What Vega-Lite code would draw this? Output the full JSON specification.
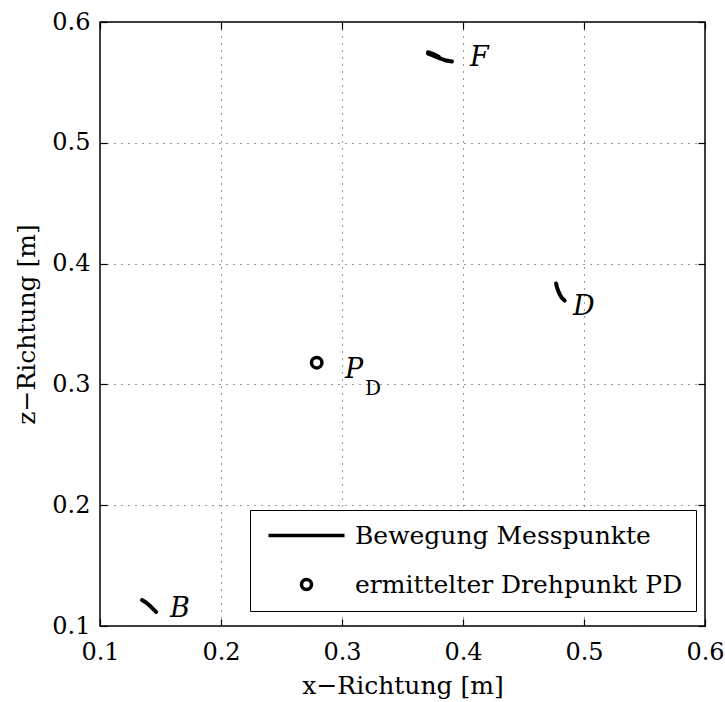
{
  "$schema": "https://vega.github.io/schema/vega-lite/v6.json",
  "width": 605,
  "height": 604,
  "autosize": "none",
  "padding": {"left": 100, "top": 22, "right": 20, "bottom": 76},
  "background": "white",
  "config": {
    "font": "DejaVu Serif",
    "view": {"stroke": "black", "strokeWidth": 1.5},
    "axis": {
      "labelFont": "DejaVu Serif", "labelFontSize": 24, "labelColor": "black",
      "titleFont": "DejaVu Serif", "titleFontSize": 25, "titleFontWeight": "normal", "titleColor": "black",
      "tickColor": "black", "tickWidth": 1.2, "domain": false,
      "gridColor": "#333", "gridDash": [1, 6], "gridWidth": 1, "gridOpacity": 1
    }
  },
  "datasets": {
    "traces": [
      {"trace": "F", "order": 1, "x": 0.3711, "z": 0.5738, "series": "Bewegung Messpunkte"},
      {"trace": "F", "order": 2, "x": 0.3740, "z": 0.5728, "series": "Bewegung Messpunkte"},
      {"trace": "F", "order": 3, "x": 0.3775, "z": 0.5713, "series": "Bewegung Messpunkte"},
      {"trace": "F", "order": 4, "x": 0.3810, "z": 0.5698, "series": "Bewegung Messpunkte"},
      {"trace": "F", "order": 5, "x": 0.3850, "z": 0.5684, "series": "Bewegung Messpunkte"},
      {"trace": "F", "order": 6, "x": 0.3909, "z": 0.5673, "series": "Bewegung Messpunkte"},
      {"trace": "F2", "order": 1, "x": 0.3711, "z": 0.5750, "series": "Bewegung Messpunkte"},
      {"trace": "F2", "order": 2, "x": 0.3760, "z": 0.5732, "series": "Bewegung Messpunkte"},
      {"trace": "F2", "order": 3, "x": 0.3800, "z": 0.5712, "series": "Bewegung Messpunkte"},
      {"trace": "D", "order": 1, "x": 0.4769, "z": 0.3836, "series": "Bewegung Messpunkte"},
      {"trace": "D", "order": 2, "x": 0.4775, "z": 0.3810, "series": "Bewegung Messpunkte"},
      {"trace": "D", "order": 3, "x": 0.4785, "z": 0.3780, "series": "Bewegung Messpunkte"},
      {"trace": "D", "order": 4, "x": 0.4795, "z": 0.3755, "series": "Bewegung Messpunkte"},
      {"trace": "D", "order": 5, "x": 0.4815, "z": 0.3718, "series": "Bewegung Messpunkte"},
      {"trace": "D", "order": 6, "x": 0.4840, "z": 0.3693, "series": "Bewegung Messpunkte"},
      {"trace": "B", "order": 1, "x": 0.1347, "z": 0.1215, "series": "Bewegung Messpunkte"},
      {"trace": "B", "order": 2, "x": 0.1380, "z": 0.1195, "series": "Bewegung Messpunkte"},
      {"trace": "B", "order": 3, "x": 0.1410, "z": 0.1170, "series": "Bewegung Messpunkte"},
      {"trace": "B", "order": 4, "x": 0.1440, "z": 0.1140, "series": "Bewegung Messpunkte"},
      {"trace": "B", "order": 5, "x": 0.1463, "z": 0.1116, "series": "Bewegung Messpunkte"}
    ],
    "pivot": [
      {"x": 0.2791, "z": 0.318, "series": "ermittelter Drehpunkt PD"}
    ],
    "labels": [
      {"label": "F", "x": 0.4058, "z": 0.5636},
      {"label": "D", "x": 0.4909, "z": 0.3574},
      {"label": "B", "x": 0.1579, "z": 0.1075},
      {"label": "P", "x": 0.3025, "z": 0.3053}
    ],
    "subs": [
      {"label": "D", "x": 0.3190, "z": 0.2912}
    ]
  },
  "resolve": {"axis": {"x": "independent", "y": "independent"}},
  "layer": [
    {
      "data": {"name": "traces"},
      "mark": {"type": "line", "strokeWidth": 4, "strokeCap": "round", "strokeJoin": "round"},
      "encoding": {
        "x": {"field": "x", "type": "quantitative",
              "scale": {"domain": [0.1, 0.6], "nice": false, "zero": false},
              "axis": {"orient": "bottom", "values": [0.1, 0.2, 0.3, 0.4, 0.5, 0.6], "format": ".1f",
                       "tickSize": -7, "labelPadding": 21, "grid": true, "title": "x−Richtung [m]", "titlePadding": 9,
                       "labelFlush": false}},
        "y": {"field": "z", "type": "quantitative",
              "scale": {"domain": [0.1, 0.6], "nice": false, "zero": false},
              "axis": {"orient": "left", "values": [0.1, 0.2, 0.3, 0.4, 0.5, 0.6], "format": ".1f",
                       "tickSize": -7, "labelPadding": 17, "grid": true, "title": "z−Richtung [m]", "titlePadding": 12,
                       "labelFlush": false}},
        "color": {"field": "series", "type": "nominal",
                  "scale": {"domain": ["Bewegung Messpunkte", "ermittelter Drehpunkt PD"], "range": ["black", "black"]},
                  "legend": {
                    "orient": "none", "legendX": 150, "legendY": 488,
                    "title": null, "strokeColor": "black", "fillColor": "white", "padding": 13,
                    "labelFont": "DejaVu Serif", "labelFontSize": 25, "labelColor": "black", "labelLimit": 500,
                    "symbolSize": 100, "symbolStrokeWidth": 3.5, "symbolOffset": 31, "labelOffset": 36,
                    "rowPadding": 23, "symbolType": "circle",
                    "encode": {"symbols": {"update": {
                      "shape": {"signal": "datum.value === 'Bewegung Messpunkte' ? 'M-7.6,0H7.6' : 'circle'"},
                      "stroke": {"value": "black"},
                      "fill": {"value": "transparent"},
                      "strokeWidth": {"value": 3.5}
                    }}}
                  }},
        "detail": {"field": "trace"},
        "order": {"field": "order"}
      }
    },
    {
      "data": {"name": "pivot"},
      "mark": {"type": "point", "shape": "circle", "filled": false, "stroke": "black", "strokeWidth": 3.5, "size": 110, "opacity": 1},
      "encoding": {
        "x": {"field": "x", "type": "quantitative", "axis": null},
        "y": {"field": "z", "type": "quantitative", "axis": null}
      }
    },
    {
      "data": {"name": "labels"},
      "mark": {"type": "text", "font": "DejaVu Serif", "fontStyle": "italic", "fontSize": 27, "align": "left", "baseline": "alphabetic", "color": "black"},
      "encoding": {
        "x": {"field": "x", "type": "quantitative", "axis": null},
        "y": {"field": "z", "type": "quantitative", "axis": null},
        "text": {"field": "label"}
      }
    },
    {
      "data": {"name": "subs"},
      "mark": {"type": "text", "font": "DejaVu Serif", "fontSize": 20, "align": "left", "baseline": "alphabetic", "color": "black"},
      "encoding": {
        "x": {"field": "x", "type": "quantitative", "axis": null},
        "y": {"field": "z", "type": "quantitative", "axis": null},
        "text": {"field": "label"}
      }
    },
    {
      "data": {"name": "pivot"},
      "mark": {"type": "point", "opacity": 0},
      "encoding": {
        "x": {"field": "x", "type": "quantitative",
              "axis": {"orient": "top", "values": [0.1, 0.2, 0.3, 0.4, 0.5, 0.6], "labels": false, "grid": false, "title": null, "tickSize": -7}},
        "y": {"field": "z", "type": "quantitative",
              "axis": {"orient": "right", "values": [0.1, 0.2, 0.3, 0.4, 0.5, 0.6], "labels": false, "grid": false, "title": null, "tickSize": -7}}
      }
    }
  ]
}
